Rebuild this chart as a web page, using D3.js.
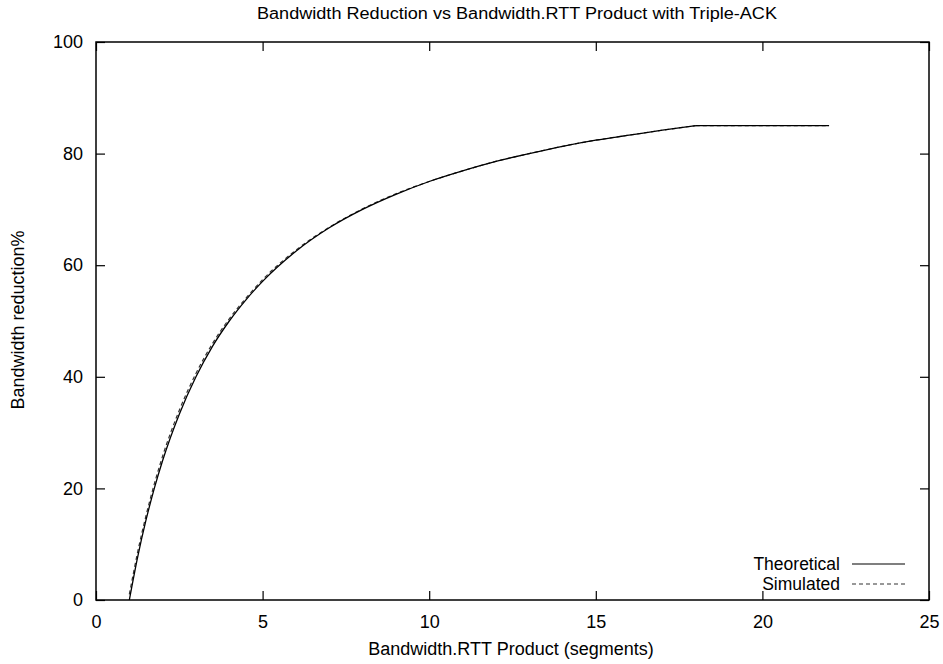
<!DOCTYPE html>
<html>
<head>
<meta charset="utf-8">
<script src="https://cdn.jsdelivr.net/npm/d3@7"></script>
<style>
html,body{margin:0;padding:0;background:#fff;}
svg text{font-family:"Liberation Sans",Arial,Helvetica,sans-serif;fill:#000;}
</style>
</head>
<body>
<svg id="chart" width="943" height="664"></svg>
<script>
// Data
const title = "Bandwidth Reduction vs Bandwidth.RTT Product with Triple-ACK";
const xLabel = "Bandwidth.RTT Product (segments)";
const yLabel = "Bandwidth reduction%";
const xTicks = [0, 5, 10, 15, 20, 25];
const yTicks = [0, 20, 40, 60, 80, 100];

const theoX = [1, 1.25, 1.5, 1.75, 2, 2.5, 3, 3.5, 4, 4.5, 5, 6, 7, 8, 9, 10, 11, 12, 13, 14, 15, 16, 17, 18, 19, 20, 21, 22];
const theoY = [0, 7.7, 14.3, 20, 25, 33.3, 40, 45.5, 50, 53.8, 57.1, 62.5, 66.7, 70, 72.7, 75, 76.9, 78.6, 80, 81.3, 82.4, 83.3, 84.2, 85, 85, 85, 85, 85];

const simX = [1, 1.25, 1.5, 1.75, 2, 2.5, 3, 3.5, 4, 4.5, 5, 6, 7, 8, 9, 10, 11, 12, 13, 14, 15, 16, 17, 18, 19, 20, 21, 22];
const simY = [1.0, 8.6, 15.1, 20.8, 25.8, 34.0, 40.6, 46.0, 50.4, 54.1, 57.4, 62.7, 66.8, 70.1, 72.8, 75, 76.9, 78.6, 80, 81.3, 82.4, 83.3, 84.2, 85, 85, 85, 85, 85];

const seriesNames = ["Theoretical", "Simulated"];

const svg = d3.select("#chart");
const margin = {left: 96, right: 14, top: 42, bottom: 64};
const W = 943, H = 664;
const FS = 18;
const x = d3.scaleLinear().domain([0, 25]).range([margin.left, W - margin.right]);
const y = d3.scaleLinear().domain([0, 100]).range([H - margin.bottom, margin.top]);

// frame
svg.append("rect")
  .attr("x", x(0)).attr("y", y(100))
  .attr("width", x(25) - x(0)).attr("height", y(0) - y(100))
  .attr("fill", "none").attr("stroke", "#000").attr("stroke-width", 1.5);

const tickLen = 9;
const g = svg.append("g");
const xb = g.append("g").attr("transform", `translate(0,${y(0)})`)
  .call(d3.axisBottom(x).tickValues(xTicks).tickSize(-tickLen).tickPadding(15).tickFormat(d3.format("d")));
const xt = g.append("g").attr("transform", `translate(0,${y(100)})`)
  .call(d3.axisTop(x).tickValues(xTicks).tickSize(-tickLen).tickFormat(""));
const yl = g.append("g").attr("transform", `translate(${x(0)},0)`)
  .call(d3.axisLeft(y).tickValues(yTicks).tickSize(-tickLen).tickPadding(22).tickFormat(d3.format("d")));
const yr = g.append("g").attr("transform", `translate(${x(25)},0)`)
  .call(d3.axisRight(y).tickValues(yTicks).tickSize(-tickLen).tickFormat(""));

[xb, xt, yl, yr].forEach(a => {
  a.select(".domain").remove();
  a.selectAll("line").attr("stroke", "#000").attr("stroke-width", 1.2);
  a.selectAll("text").attr("font-size", FS).attr("font-family", "Liberation Sans, Arial, sans-serif").attr("fill", "#000");
});
xb.selectAll("text").attr("dy", "0.71em");
yl.selectAll("text").attr("x", -13);

// lines: smooth rising part, straight plateau
const curved = d3.line().x(d => x(d[0])).y(d => y(d[1])).curve(d3.curveMonotoneX);
const straight = d3.line().x(d => x(d[0])).y(d => y(d[1]));
const theo = theoX.map((v, i) => [v, theoY[i]]);
const sim = simX.map((v, i) => [v, simY[i]]);

function drawSeries(data, stroke, width, dash) {
  const rise = data.filter(d => d[0] <= 18);
  const flat = data.filter(d => d[0] >= 18);
  [[rise, curved], [flat, straight]].forEach(([pts, gen]) => {
    svg.append("path").datum(pts).attr("d", gen)
      .attr("fill", "none").attr("stroke", stroke).attr("stroke-width", width)
      .attr("stroke-dasharray", dash);
  });
}
drawSeries(sim, "#333", 1.2, "4,3");
drawSeries(theo, "#000", 1.3, null);

// legend
const leg = svg.append("g");
const legY = [564, 584];
const dashes = [null, "4,3"];
seriesNames.forEach((n, i) => {
  leg.append("text").attr("x", 840).attr("y", legY[i]).attr("dy", "0.35em")
    .attr("text-anchor", "end").attr("font-size", 17.5).text(n);
  leg.append("line").attr("x1", 852).attr("x2", 905).attr("y1", legY[i]).attr("y2", legY[i])
    .attr("stroke", i ? "#333" : "#000").attr("stroke-width", 1.2)
    .attr("stroke-dasharray", dashes[i]);
});

// title & labels
svg.append("text").attr("x", 517).attr("y", 19)
  .attr("text-anchor", "middle").attr("font-size", 16)
  .attr("textLength", 520).attr("lengthAdjust", "spacingAndGlyphs")
  .text(title);
svg.append("text").attr("x", 511).attr("y", 655)
  .attr("text-anchor", "middle").attr("font-size", FS).text(xLabel);
svg.append("text").attr("transform", "translate(24,320) rotate(-90)")
  .attr("text-anchor", "middle").attr("font-size", FS).text(yLabel);
</script>
</body>
</html>
